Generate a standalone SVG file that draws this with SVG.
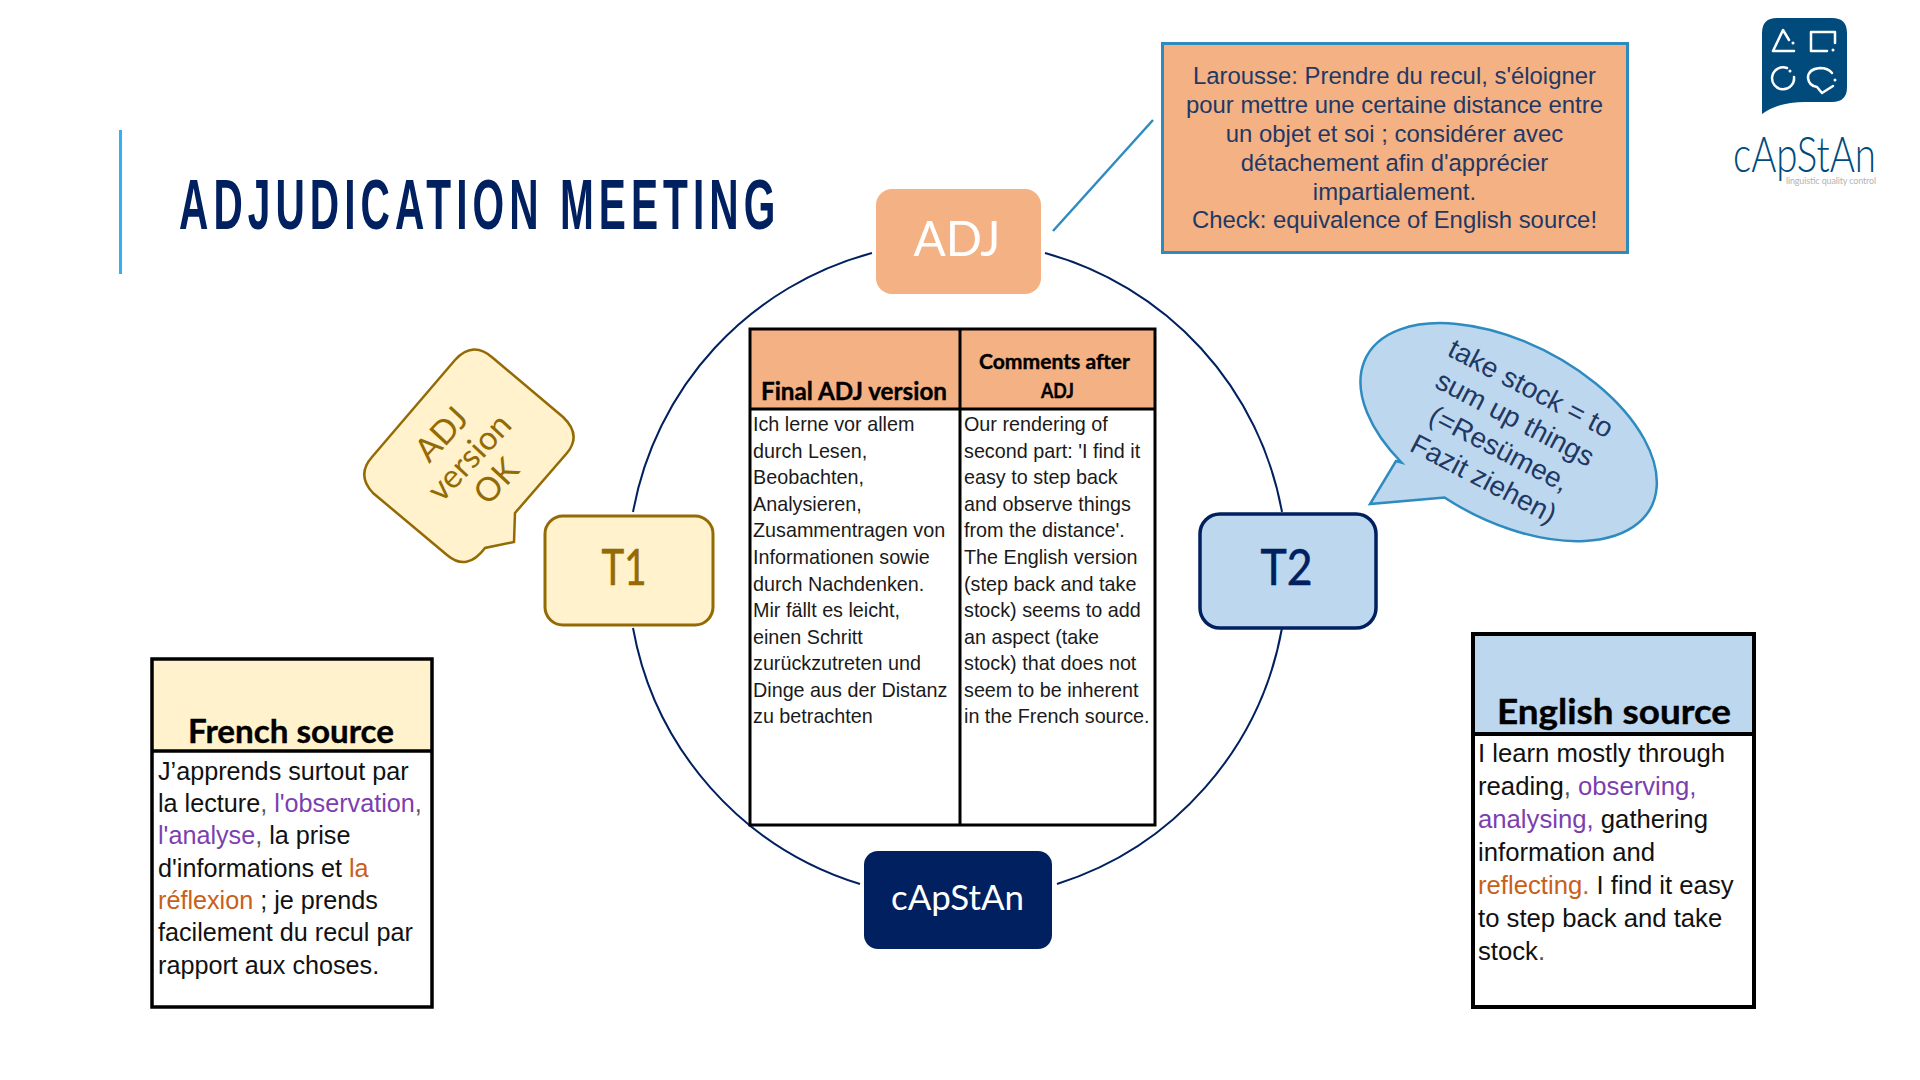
<svg xmlns="http://www.w3.org/2000/svg" width="1920" height="1080" viewBox="0 0 1920 1080">
<style>
text{font-family:"Liberation Sans",Arial,sans-serif}
.node{font-family:Lato,sans-serif;text-anchor:middle}
.h{font-family:Lato,sans-serif;font-weight:700;text-anchor:middle;fill:#000;stroke:#000;stroke-width:.4px}
.cell{font-size:19.75px;fill:#1a1a1a}
.src{font-size:25.2px;fill:#111}
.en{font-size:25.7px;fill:#111}
.cal{font-size:23.9px;fill:#1f3864;text-anchor:middle}
.bub{font-size:28px;fill:#1f3864;text-anchor:middle}
.adjb{font-family:Lato,sans-serif;font-size:33px;fill:#946a04;text-anchor:middle}
.p{fill:#7b3fb0}.o{fill:#c8601a}.g{fill:#555}
.tb{stroke:#000;fill:none}
</style>
<rect width="1920" height="1080" fill="#fff"/>
<g id="title">
<line x1="120.500" y1="130" x2="120.500" y2="274" stroke="#33b0f5" stroke-width="3"/>
<text transform="translate(179,229) scale(.58,1)" font-size="70" font-weight="700" fill="#002060" textLength="1028" lengthAdjust="spacing">ADJUDICATION MEETING</text>
</g>
<g id="connectors" fill="none" stroke="#002060" stroke-width="2">
<path d="M872,253A329,329 0 0 0 633,512"/>
<path d="M1045,253A329,329 0 0 1 1282,512"/>
<path d="M1282,628A329,329 0 0 1 1057,884"/>
<path d="M860,884A329,329 0 0 1 633,628"/>
<line x1="1053" y1="231" x2="1153" y2="120" stroke="#2e8bc0" stroke-width="2.500"/>
</g>
<g id="adj">
<rect x="876" y="189" width="165" height="105" rx="16" fill="#f4b183"/>
<text class="node" x="957" y="256" font-size="49" fill="#fff" textLength="87" lengthAdjust="spacingAndGlyphs">ADJ</text>
</g>
<g id="t1">
<rect x="545" y="516" width="168" height="109" rx="18" fill="#fff2cc" stroke="#946a04" stroke-width="3"/>
<text class="node" x="624" y="585" font-size="50" fill="#946a04" stroke="#946a04" stroke-width=".6" textLength="45" lengthAdjust="spacingAndGlyphs">T1</text>
</g>
<g id="t2">
<rect x="1200" y="514" width="176" height="114" rx="20" fill="#bdd7ee" stroke="#002060" stroke-width="3.500"/>
<text class="node" x="1286.500" y="585" font-size="50" fill="#002060" stroke="#002060" stroke-width=".6" textLength="52" lengthAdjust="spacingAndGlyphs">T2</text>
</g>
<g id="capstan">
<rect x="864" y="851" width="188" height="98" rx="14" fill="#002060"/>
<text class="node" x="957.500" y="910" font-size="34" fill="#fff" textLength="133" lengthAdjust="spacingAndGlyphs">cApStAn</text>
</g>
<g id="callout">
<rect x="1162.500" y="43.500" width="465" height="209" fill="#f4b183" stroke="#2e8bc0" stroke-width="3"/>
<text class="cal" x="1394.500" y="84">Larousse: Prendre du recul, s'éloigner</text>
<text class="cal" x="1394.500" y="113">pour mettre une certaine distance entre</text>
<text class="cal" x="1394.500" y="142">un objet et soi ; considérer avec</text>
<text class="cal" x="1394.500" y="171">détachement afin d'apprécier</text>
<text class="cal" x="1394.500" y="200">impartialement.</text>
<text class="cal" x="1394.500" y="228">Check: equivalence of English source!</text>
</g>
<g id="adj-bubble">
<path d="M455,360Q473,340 493,358L563,417Q582,435 567,453L515,513L514,542L485,548Q467,572 447,555L373,493Q356,475 372,457Z" fill="#fff2cc" stroke="#946a04" stroke-width="2.500"/>
<g transform="translate(473,461) rotate(-47)">
<text class="adjb" x="-2" y="-30">ADJ</text>
<text class="adjb" x="0" y="6">version</text>
<text class="adjb" x="1" y="42">OK</text>
</g>
</g>
<g id="t2-bubble">
<path d="M1396,461L1401.500,462.500A161,89 28 1 1 1444.500,497.500L1439,498L1370,504Z" fill="#bdd7ee" stroke="#2e8bc0" stroke-width="2.500"/>
<g transform="translate(1507,434) rotate(27.500)">
<text class="bub" x="0" y="-42">take stock = to</text>
<text class="bub" x="0" y="-8">sum up things</text>
<text class="bub" x="0" y="26">(=Resümee,</text>
<text class="bub" x="0" y="60">Fazit ziehen)</text>
</g>
</g>
<g id="adj-table">
<rect x="750" y="329" width="405" height="496" fill="#fff"/>
<rect x="750" y="329" width="405" height="80" fill="#f4b183"/>
<path class="tb" stroke-width="3" d="M750,329H1155V825H750ZM750,409H1156M960,329V825"/>
<text class="h" x="854" y="400" font-size="25" textLength="186" lengthAdjust="spacingAndGlyphs">Final ADJ version</text>
<text class="h" x="1054.500" y="369" font-size="21" textLength="151" lengthAdjust="spacingAndGlyphs">Comments after</text>
<text class="h" x="1057.500" y="398" font-size="21" textLength="33" lengthAdjust="spacingAndGlyphs">ADJ</text>
<g class="cell">
<text x="753" y="431">Ich lerne vor allem</text>
<text x="753" y="457.500">durch Lesen,</text>
<text x="753" y="484">Beobachten,</text>
<text x="753" y="510.500">Analysieren,</text>
<text x="753" y="537">Zusammentragen von</text>
<text x="753" y="564">Informationen sowie</text>
<text x="753" y="590.500">durch Nachdenken.</text>
<text x="753" y="617">Mir fällt es leicht,</text>
<text x="753" y="643.500">einen Schritt</text>
<text x="753" y="670">zurückzutreten und</text>
<text x="753" y="696.500">Dinge aus der Distanz</text>
<text x="753" y="723">zu betrachten</text>
<text x="964" y="431">Our rendering of</text>
<text x="964" y="457.500">second part: 'I find it</text>
<text x="964" y="484">easy to step back</text>
<text x="964" y="510.500">and observe things</text>
<text x="964" y="537">from the distance'.</text>
<text x="964" y="564">The English version</text>
<text x="964" y="590.500">(step back and take</text>
<text x="964" y="617">stock) seems to add</text>
<text x="964" y="643.500">an aspect (take</text>
<text x="964" y="670">stock) that does not</text>
<text x="964" y="696.500">seem to be inherent</text>
<text x="964" y="723">in the French source.</text>
</g>
</g>
<g id="french-source">
<rect x="152" y="659" width="280" height="348" fill="#fff"/>
<rect x="152" y="659" width="280" height="92" fill="#fff2cc"/>
<path class="tb" stroke-width="3.500" d="M152,659H432V1007H152ZM152,751H433"/>
<text class="h" x="291" y="743" font-size="33" textLength="206" lengthAdjust="spacingAndGlyphs">French source</text>
<g class="src">
<text x="158" y="780">J’apprends surtout par</text>
<text x="158" y="812">la lecture<tspan class="g">,</tspan> <tspan class="p">l'observation</tspan><tspan class="g">,</tspan></text>
<text x="158" y="844"><tspan class="p">l'analyse</tspan><tspan class="g">,</tspan> la prise</text>
<text x="158" y="877">d'informations et <tspan class="o">la</tspan></text>
<text x="158" y="909"><tspan class="o">réflexion</tspan> ; je prends</text>
<text x="158" y="941">facilement du recul par</text>
<text x="158" y="974">rapport aux choses.</text>
</g>
</g>
<g id="english-source">
<rect x="1474" y="634" width="280" height="373" fill="#fff"/>
<rect x="1474" y="634" width="280" height="100" fill="#bdd7ee"/>
<path class="tb" stroke-width="4" d="M1473,634H1754V1007H1473ZM1473,734H1755"/>
<text class="h" x="1614" y="724" font-size="35" textLength="234" lengthAdjust="spacingAndGlyphs">English source</text>
<g class="en">
<text x="1478" y="762">I learn mostly through</text>
<text x="1478" y="795">reading<tspan class="g">,</tspan> <tspan class="p">observing,</tspan></text>
<text x="1478" y="828"><tspan class="p">analysing,</tspan> gathering</text>
<text x="1478" y="861">information and</text>
<text x="1478" y="894"><tspan class="o">reflecting.</tspan> I find it easy</text>
<text x="1478" y="927">to step back and take</text>
<text x="1478" y="960">stock<tspan class="g">.</tspan></text>
</g>
</g>
<g id="logo">
<path d="M1777,18H1832Q1847,18 1847,33V87Q1847,102 1832,102H1805Q1778,102 1762,114V33Q1762,18 1777,18Z" fill="#004b7c"/>
<g fill="none" stroke="#fff" stroke-width="2.500" stroke-linecap="round" stroke-linejoin="round">
<path d="M1789,40L1783,30L1773,51H1794"/>
<path d="M1827,51H1811V32H1835V43"/>
<path d="M1787,68A11,11 0 1 0 1794,77"/>
<path d="M1832,73Q1828,68 1820,68Q1808,69 1808,78Q1809,86 1817,87L1822,93L1833,86"/>
</g>
<g fill="#fff"><circle cx="1793" cy="43" r="1.500"/><circle cx="1833" cy="50" r="1.500"/><circle cx="1790" cy="71" r="1.500"/><circle cx="1835" cy="80" r="1.500"/></g>
<text x="1733" y="172" font-size="50" fill="#004b7c" style="font-family:Lato,sans-serif;font-weight:300" textLength="143" lengthAdjust="spacingAndGlyphs">cApStAn</text>
<text x="1786" y="184" font-size="9" fill="#b5b5b5" style="font-family:Lato,sans-serif" textLength="90">linguistic quality control</text>
</g>
</svg>
